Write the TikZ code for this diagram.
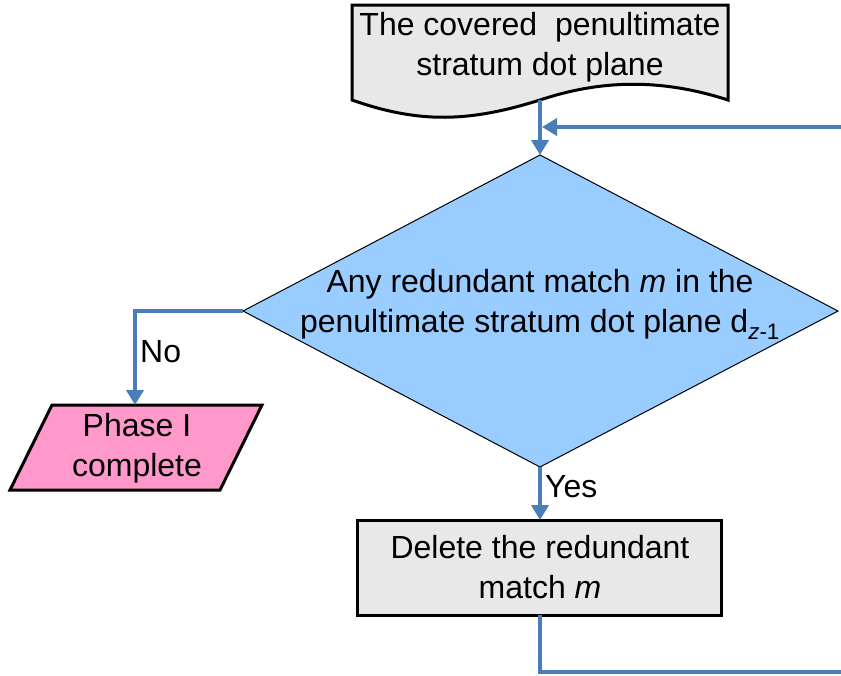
\documentclass[tikz,border=0pt]{standalone}
\usepackage{fontspec}
\setmainfont{Liberation Sans}
\usetikzlibrary{arrows.meta}
\definecolor{flowblue}{HTML}{4A7EBB}
\definecolor{decfill}{HTML}{99CCFF}
\definecolor{endfill}{HTML}{FF99CC}
\definecolor{boxfill}{HTML}{E8E8E8}
\tikzset{
  flow/.style={draw=flowblue, line width=4.5pt},
  flowarrow/.style={flow, -{Triangle[width=17pt,length=15pt]}},
  shapeborder/.style={draw=black, line width=3pt, line join=miter},
  txt/.style={align=center, inner sep=0pt, font=\fontsize{32}{40}\selectfont},
  lbl/.style={inner sep=0pt, font=\fontsize{32}{38}\selectfont}
}
\begin{document}
\begin{tikzpicture}[x=1pt,y=-1pt]
\useasboundingbox (0,0) rectangle (841,675);
\clip (0,0) rectangle (841,675);
% document shape
\coordinate (docbot) at (540,100);
\draw[shapeborder, fill=boxfill] (352,5) -- (728,5) -- (728,100)
  .. controls (660,78) and (600,80) .. (docbot)
  .. controls (470,122) and (420,124) .. (352,100) -- cycle;
\node[txt] (doctext) at (540,47) {The covered\ \ penultimate\\stratum dot plane};
% decision
\coordinate (dtop) at (540,155);
\coordinate (dleft) at (243,311);
\coordinate (dright) at (838,311);
\coordinate (dbot) at (540,467);
\draw[draw=black, line width=1pt, fill=decfill] (dtop) -- (dright) -- (dbot) -- (dleft) -- cycle;
\node[txt] (dectext) at (540,304) {Any redundant match \textit{m} in the\\penultimate stratum dot plane d\textsubscript{\textit{z}-1}};
% end parallelogram
\coordinate (ptop) at (135,405);
\draw[shapeborder, fill=endfill] (52,405) -- (262,405) -- (220,490) -- (10,490) -- cycle;
\node[txt] (ptext) at (137,448) {Phase I\\complete};
% delete box
\coordinate (rtop) at (540,520);
\coordinate (rbot) at (540,615);
\draw[shapeborder, fill=boxfill] (357,520) rectangle (721,615);
\node[txt] (rtext) at (540,567) {Delete the redundant\\match \textit{m}};
% loop ends
\coordinate (loopin) at (841,127);
\coordinate (loopjoin) at (542,127);
\coordinate (loopout) at (841,672);
% connectors
\draw[flowarrow] (docbot) -- (dtop);
\draw[flowarrow] (loopin) -- (loopjoin);
\draw[flowarrow] (dleft) -| (ptop);
\draw[flowarrow] (dbot) -- (rtop);
\draw[flow] (rbot) |- (loopout);
% labels
\node[lbl, anchor=west] (nolbl) at (140,352) {No};
\node[lbl, anchor=west] (yeslbl) at (545,487) {Yes};
\end{tikzpicture}
\end{document}
